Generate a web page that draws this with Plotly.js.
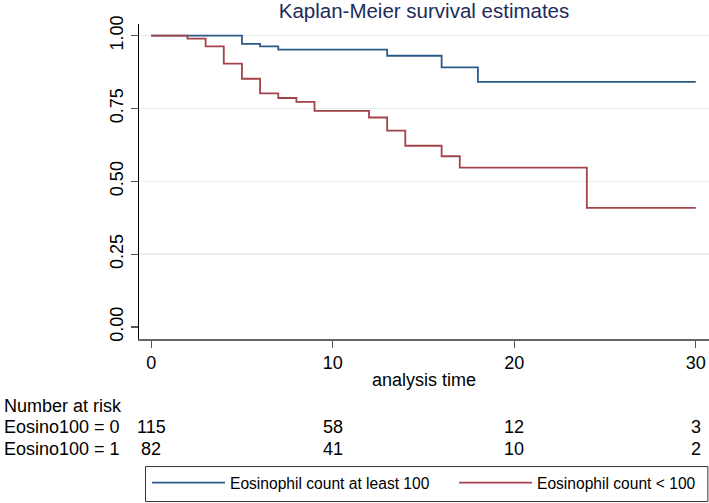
<!DOCTYPE html>
<html>
<head>
<meta charset="utf-8">
<script src="https://cdn.plot.ly/plotly-3.0.1.min.js"></script>
<style>html,body{margin:0;padding:0;background:#fff;}#chart{width:709px;height:503px;}</style>
</head>
<body>
<div id="chart"></div>
<script>
// Kaplan-Meier step data
var timeHigh = [0, 5, 6, 7, 13, 16, 18, 30];
var survHigh = [1.000, 0.972, 0.963, 0.952, 0.931, 0.891, 0.841, 0.841];
var timeLow = [0, 2, 3, 4, 5, 6, 7, 8, 9, 12, 13, 14, 16, 17, 24, 30];
var survLow = [1.000, 0.990, 0.963, 0.904, 0.852, 0.802, 0.786, 0.773, 0.742, 0.719, 0.674, 0.622, 0.586, 0.547, 0.409, 0.409];
var seriesNames = ["Eosinophil count at least 100", "Eosinophil count < 100"];

// Number at risk table
var riskTimes = [0, 10, 20, 30];
var riskGroupLabels = ["Eosino100 = 0", "Eosino100 = 1"];
var riskGroup0 = [115, 58, 12, 3];
var riskGroup1 = [82, 41, 10, 2];

var xTicks = [0, 10, 20, 30];
var yTicks = [0, 0.25, 0.5, 0.75, 1];
var yTickText = ["0.00", "0.25", "0.50", "0.75", "1.00"];
var gridVals = [0.25, 0.5, 0.75, 1];

var FONT = "Liberation Sans, Arial, Helvetica, sans-serif";
var BLUE = "#2b5a87";
var RED = "#a3434a";

var traces = [
  {x: timeHigh, y: survHigh, type: "scatter", mode: "lines", line: {shape: "hv", color: BLUE, width: 1.8}, name: seriesNames[0], legend: "legend", hoverinfo: "skip"},
  {x: timeLow, y: survLow, type: "scatter", mode: "lines", line: {shape: "hv", color: RED, width: 1.8}, name: seriesNames[1], legend: "legend2", hoverinfo: "skip"},
  {x: [0], y: [0.5], yaxis: "y2", type: "scatter", mode: "markers", marker: {opacity: 0}, showlegend: false, hoverinfo: "skip"}
];

var rowY = [-0.280, -0.348];
var annotations = [
  {text: "analysis time", xref: "paper", yref: "paper", x: 0.5, y: -0.1314, xanchor: "center", yanchor: "middle", showarrow: false, font: {family: FONT, size: 18, color: "#000"}},
  {text: "Number at risk", xref: "paper", yref: "paper", x: -0.241, y: -0.214, xanchor: "left", yanchor: "middle", showarrow: false, font: {family: FONT, size: 18, color: "#000"}}
];
var groups = [riskGroup0, riskGroup1];
for (var g = 0; g < groups.length; g++) {
  annotations.push({text: riskGroupLabels[g], xref: "paper", yref: "paper", x: -0.241, y: rowY[g], xanchor: "left", yanchor: "middle", showarrow: false, font: {family: FONT, size: 18, color: "#000"}});
  for (var i = 0; i < riskTimes.length; i++) {
    annotations.push({text: String(groups[g][i]), xref: "x", yref: "paper", x: riskTimes[i], y: rowY[g], xanchor: "center", yanchor: "middle", showarrow: false, font: {family: FONT, size: 18, color: "#000"}});
  }
}

var legendCommon = {orientation: "h", xref: "container", yref: "container", xanchor: "left", y: 0.0736, yanchor: "top", borderwidth: 0, bgcolor: "rgba(0,0,0,0)", font: {family: FONT, size: 15.6, color: "#000"}, itemwidth: 73};

var layout = {
  width: 709, height: 503,
  margin: {l: 138.5, r: 0, t: 24.3, b: 164.3, pad: 0, autoexpand: false},
  paper_bgcolor: "#fff", plot_bgcolor: "#fff",
  font: {family: FONT, size: 18, color: "#000"},
  title: {text: "Kaplan-Meier survival estimates", x: 0.5, xref: "paper", xanchor: "center", y: 0.979, yref: "container", yanchor: "middle", font: {family: FONT, size: 20.5, color: "#1c2b5a"}},
  xaxis: {range: [-0.671, 30.73], tickvals: xTicks, ticktext: xTicks.map(String), ticks: "outside", ticklen: 7, tickwidth: 1.2, tickcolor: "#555", showline: true, linecolor: "#666", linewidth: 1.5, showgrid: false, zeroline: false, tickfont: {family: FONT, size: 18, color: "#000"}, fixedrange: true},
  yaxis: {range: [-0.0413, 1.040], tickvals: yTicks, ticktext: yTickText, tickangle: -90, ticks: "outside", ticklen: 7, tickwidth: 1.2, tickcolor: "#555", showline: true, linecolor: "#000", linewidth: 1.5, showgrid: false, zeroline: false, tickfont: {family: FONT, size: 18, color: "#000"}, ticklabelstandoff: 0, fixedrange: true},
  yaxis2: {overlaying: "y", range: [-0.0413, 1.040], tickvals: gridVals, showticklabels: false, ticks: "", showgrid: true, gridcolor: "#e6eef0", gridwidth: 1.5, zeroline: false, showline: false, fixedrange: true},
  legend: Object.assign({}, legendCommon, {x: 147 / 709}),
  legend2: Object.assign({}, legendCommon, {x: 454 / 709}),
  shapes: [
    {type: "rect", xref: "paper", yref: "paper", x0: 0.0114, x1: 0.998, y0: -0.516, y1: -0.405, line: {color: "#333", width: 1}, fillcolor: "rgba(0,0,0,0)", layer: "below"}
  ],
  annotations: annotations,
  showlegend: true
};

Plotly.newPlot("chart", traces, layout, {displayModeBar: false, staticPlot: true});
</script>
</body>
</html>
